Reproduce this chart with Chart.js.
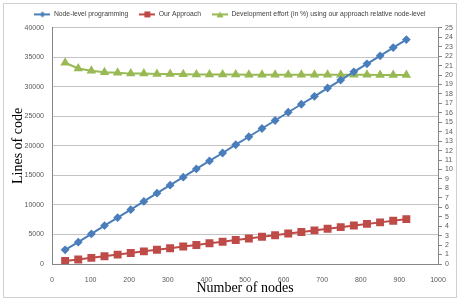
<!DOCTYPE html>
<html><head><meta charset="utf-8">
<script src="https://cdn.jsdelivr.net/npm/chart.js@4"></script>
<style>html,body{margin:0;padding:0;background:#fff}#wrap{width:460px;height:301px;position:relative}</style>
</head><body><div id="wrap"><canvas id="c" width="460" height="301"></canvas></div>
<script>
const nodes = [34,68,102,136,170,204,238,272,306,340,374,408,442,476,510,544,578,612,646,680,714,748,782,816,850,884,918];
const nodeLevel = [2400,3700,5100,6500,7850,9200,10600,12000,13350,14700,16100,17450,18800,20200,21550,22950,24300,25700,27050,28400,29800,31150,32550,33900,35250,36650,38000];
const ourApproach = [510,770,1040,1320,1590,1850,2140,2410,2680,2950,3230,3500,3770,4050,4320,4600,4870,5150,5420,5690,5970,6240,6520,6790,7050,7330,7600];
const effortPct = [21.3,20.7,20.45,20.3,20.25,20.15,20.15,20.1,20.1,20.08,20.07,20.06,20.05,20.05,20.04,20.04,20.03,20.03,20.03,20.02,20.02,20.02,20.02,20.02,20.01,20.01,20.01];
const seriesNames = ['Node-level programming','Our Approach','Development effort (in %) using our approach relative node-level'];
const xTitle = 'Number of nodes';
const yTitle = 'Lines of code';

const BLUE = '#4A7EBB', RED = '#BE4B48', GREEN = '#98B954';
const pts = ys => nodes.map((n,i)=>({x:n,y:ys[i]}));

function legendImg(color, kind){
  const c = document.createElement('canvas'); c.width = 16; c.height = 8;
  const g = c.getContext('2d');
  g.strokeStyle = color; g.lineWidth = 2;
  g.beginPath(); g.moveTo(0,4); g.lineTo(16,4); g.stroke();
  g.fillStyle = color; g.beginPath();
  if (kind==='d'){ g.moveTo(8,1); g.lineTo(11,4); g.lineTo(8,7); g.lineTo(5,4); }
  else if (kind==='s'){ g.rect(5,1,6,6); }
  else { g.moveTo(8,1); g.lineTo(11.5,7); g.lineTo(4.5,7); }
  g.closePath(); g.fill();
  return c;
}
const legendImgs = [legendImg(BLUE,'d'), legendImg(RED,'s'), legendImg(GREEN,'t')];

const frame = {
  id:'frame',
  beforeDraw(chart){
    const g = chart.ctx; g.save();
    g.fillStyle = '#fff'; g.fillRect(0,0,chart.width,chart.height);
    g.strokeStyle = '#d0d0d0'; g.lineWidth = 1;
    g.strokeRect(3.5,3.5,453,294);
    g.restore();
  }
};

const tickFont = {family:'Liberation Sans', size:7};
new Chart(document.getElementById('c'), {
  type:'line',
  data:{datasets:[
    {label:seriesNames[0], data:pts(nodeLevel), borderColor:BLUE, backgroundColor:BLUE, borderWidth:2, pointStyle:'rectRot', pointRadius:3, yAxisID:'y'},
    {label:seriesNames[1], data:pts(ourApproach), borderColor:RED, backgroundColor:RED, borderWidth:2, pointStyle:'rect', pointRadius:4.2, yAxisID:'y'},
    {label:seriesNames[2], data:pts(effortPct), borderColor:GREEN, backgroundColor:GREEN, borderWidth:2, pointStyle:'triangle', pointRadius:3.5, yAxisID:'y1'}
  ]},
  options:{
    responsive:false, animation:false,
    layout:{padding:{top:0,left:0,right:0,bottom:0}},
    plugins:{
      tooltip:{enabled:false},
      legend:{
        position:'top',
        labels:{
          usePointStyle:true, pointStyleWidth:16, padding:11, color:'#404040',
          font:{family:'Liberation Sans', size:6.8},
          generateLabels(chart){
            const items = Chart.defaults.plugins.legend.labels.generateLabels(chart);
            items.forEach((it,i)=>{ it.pointStyle = legendImgs[i]; });
            return items;
          }
        }
      }
    },
    scales:{
      x:{type:'linear', min:0, max:1000,
        ticks:{stepSize:100, font:tickFont, color:'#595959', padding:4, maxRotation:0, autoSkip:false, callback:v=>String(v)},
        grid:{display:false}, border:{color:'#868686'},
        title:{display:true, text:xTitle, color:'#000', font:{family:'Liberation Serif', size:14}, padding:{top:0,bottom:4}},
        afterFit(s){ s.height = 37; }
      },
      y:{position:'left', min:0, max:40000,
        ticks:{stepSize:5000, font:tickFont, color:'#595959', padding:8, callback:v=>String(v)},
        grid:{color:'#c4c4c4', drawTicks:false}, border:{color:'#868686'},
        title:{display:true, text:yTitle, color:'#000', font:{family:'Liberation Serif', size:14}, padding:{top:10,bottom:0}},
        afterFit(s){ s.width = 52; }
      },
      y1:{position:'right', min:0, max:25,
        ticks:{stepSize:1, font:tickFont, color:'#595959', padding:3, autoSkip:false, callback:v=>String(v)},
        grid:{drawOnChartArea:false, tickLength:4, color:'#868686'}, border:{color:'#868686'},
        afterFit(s){ s.width = 22; }
      }
    }
  },
  plugins:[frame]
});
</script></body></html>
